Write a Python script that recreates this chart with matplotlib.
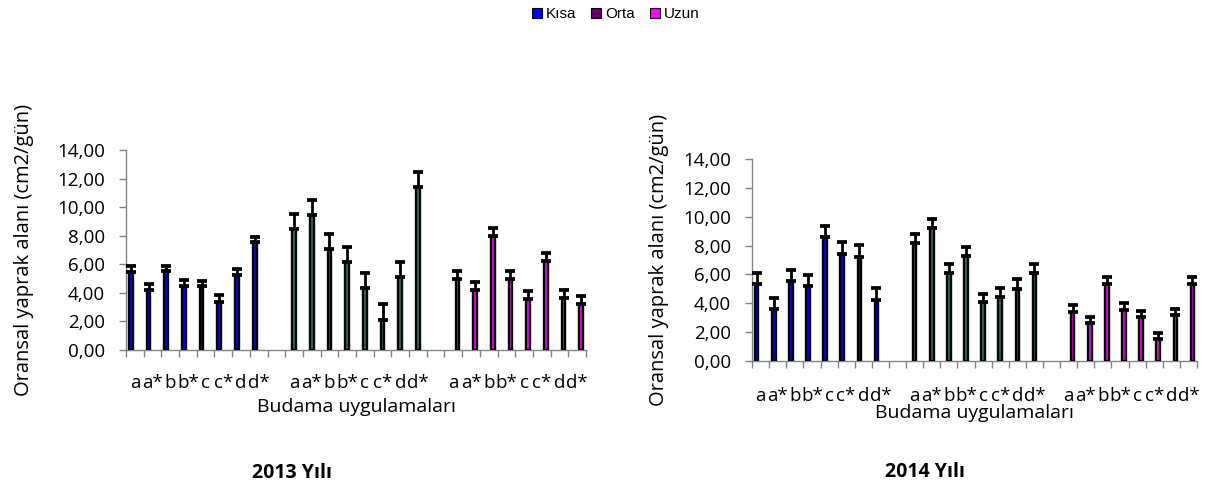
import numpy as np
from matplotlib import pyplot as plt
from matplotlib.patches import Patch

# budama uygulamalari (pruning treatments), one group per shoot length
treatments = ['a', 'a*', 'b', 'b*', 'c', 'c*', 'd', 'd*']
series_names = ['Kısa', 'Orta', 'Uzun']
bar_colors = ['#0000FF', '#2E7550', '#FF00FF']
legend_colors = ['#0000FF', '#660066', '#FF00FF']

# 2013
kisa_2013 = [5.48, 4.18, 5.51, 4.46, 4.46, 3.38, 5.23, 7.54]
kisa_2013_err = [0.42, 0.42, 0.39, 0.42, 0.37, 0.45, 0.42, 0.39]
orta_2013 = [8.45, 9.43, 7.09, 6.18, 4.34, 2.10, 5.13, 11.39]
orta_2013_err = [1.05, 1.05, 1.01, 1.01, 1.03, 1.10, 1.03, 1.05]
uzun_2013 = [4.95, 4.20, 7.98, 4.97, 3.57, 6.25, 3.66, 3.20]
uzun_2013_err = [0.56, 0.54, 0.54, 0.56, 0.54, 0.56, 0.52, 0.56]

# 2014
kisa_2014 = [5.35, 3.59, 5.55, 5.21, 8.56, 7.45, 7.24, 4.26]
kisa_2014_err = [0.78, 0.78, 0.79, 0.76, 0.77, 0.81, 0.79, 0.81]
orta_2014 = [8.17, 9.23, 6.11, 7.27, 4.10, 4.47, 5.02, 6.11]
orta_2014_err = [0.62, 0.58, 0.60, 0.60, 0.57, 0.60, 0.63, 0.60]
uzun_2014 = [3.43, 2.62, 5.37, 3.56, 3.03, 1.53, 3.17, 5.37]
uzun_2014_err = [0.43, 0.43, 0.44, 0.44, 0.44, 0.44, 0.42, 0.44]

yticks = [0, 2, 4, 6, 8, 10, 12, 14]

FONT = 'Open Sans'
GRAY = '#858585'

# category layout: 8 treatments, one blank slot, 8, blank, 8
n_group = len(treatments)
slot_labels = treatments + [''] + treatments + [''] + treatments
n_slots = len(slot_labels)


def draw_year(ax, groups, label_pad, ylabel_x, xlabel_y):
    w = 0.21
    step = 0.23
    for i, (vals, errs) in enumerate(groups):
        start = i * (n_group + 1)
        x = np.arange(start, start + n_group) + (i - 1) * step
        ax.bar(x, vals, width=w, color=bar_colors[i], edgecolor='black',
               linewidth=1.7, zorder=3)
        ax.errorbar(x, vals, yerr=[np.zeros(len(errs)), errs], fmt='none',
                    ecolor='black', elinewidth=2, capsize=3.7, capthick=2.7,
                    zorder=4)

    ax.set_xlim(-0.5, n_slots - 0.5)
    ax.set_ylim(0, 14)
    ax.set_yticks(yticks)
    ax.set_yticklabels([f'{v:.2f}'.replace('.', ',') for v in yticks],
                       fontsize=13.5, family=FONT)
    ax.set_xticks(np.arange(n_slots + 1) - 0.5)
    ax.set_xticklabels([])
    ax.set_xticks(np.arange(n_slots), minor=True)
    ax.set_xticklabels(slot_labels, minor=True, fontsize=13.5, family=FONT)
    ax.tick_params(axis='x', which='minor', length=0, pad=label_pad)
    ax.tick_params(axis='x', which='major', length=5, width=1, color=GRAY,
                   direction='out')
    ax.tick_params(axis='y', length=5, width=1, color=GRAY, direction='out',
                   pad=10)
    for side in ['top', 'right']:
        ax.spines[side].set_visible(False)
    for side in ['left', 'bottom']:
        ax.spines[side].set_color(GRAY)
        ax.spines[side].set_linewidth(1)
    ax.set_xlabel('Budama uygulamaları', fontsize=14, family=FONT, va='center')
    ax.xaxis.set_label_coords(0.5, xlabel_y)
    ax.set_ylabel('Oransal yaprak alanı (cm2/gün)', fontsize=14.5,
                  family=FONT)
    ax.yaxis.set_label_coords(ylabel_x, 0.5)


fig = plt.figure(figsize=(12.05, 4.83), dpi=100)

ax1 = fig.add_axes([0.1046, 0.2754, 0.3817, 0.414])
draw_year(ax1, [(kisa_2013, kisa_2013_err), (orta_2013, orta_2013_err),
                (uzun_2013, uzun_2013_err)], 17, -0.2, -0.285)

ax2 = fig.add_axes([0.6241, 0.2526, 0.3693, 0.4182])
draw_year(ax2, [(kisa_2014, kisa_2014_err), (orta_2014, orta_2014_err),
                (uzun_2014, uzun_2014_err)], 19, -0.186, -0.258)

fig.text(0.2423, 0.021, '2013 Yılı', ha='center', va='center', fontsize=14,
         fontweight='bold', family=FONT)
fig.text(0.7676, 0.022, '2014 Yılı', ha='center', va='center', fontsize=14,
         fontweight='bold', family=FONT)

handles = [Patch(facecolor=c, edgecolor='black', linewidth=0.8)
           for c in legend_colors]
fig.legend(handles, series_names, loc='center', bbox_to_anchor=(0.511, 0.971),
           ncol=3, frameon=False, handlelength=0.65, handleheight=0.65,
           handletextpad=0.25, columnspacing=1.0,
           prop={'family': 'Liberation Sans', 'size': 11})

fig.savefig('out.png', dpi=100)
